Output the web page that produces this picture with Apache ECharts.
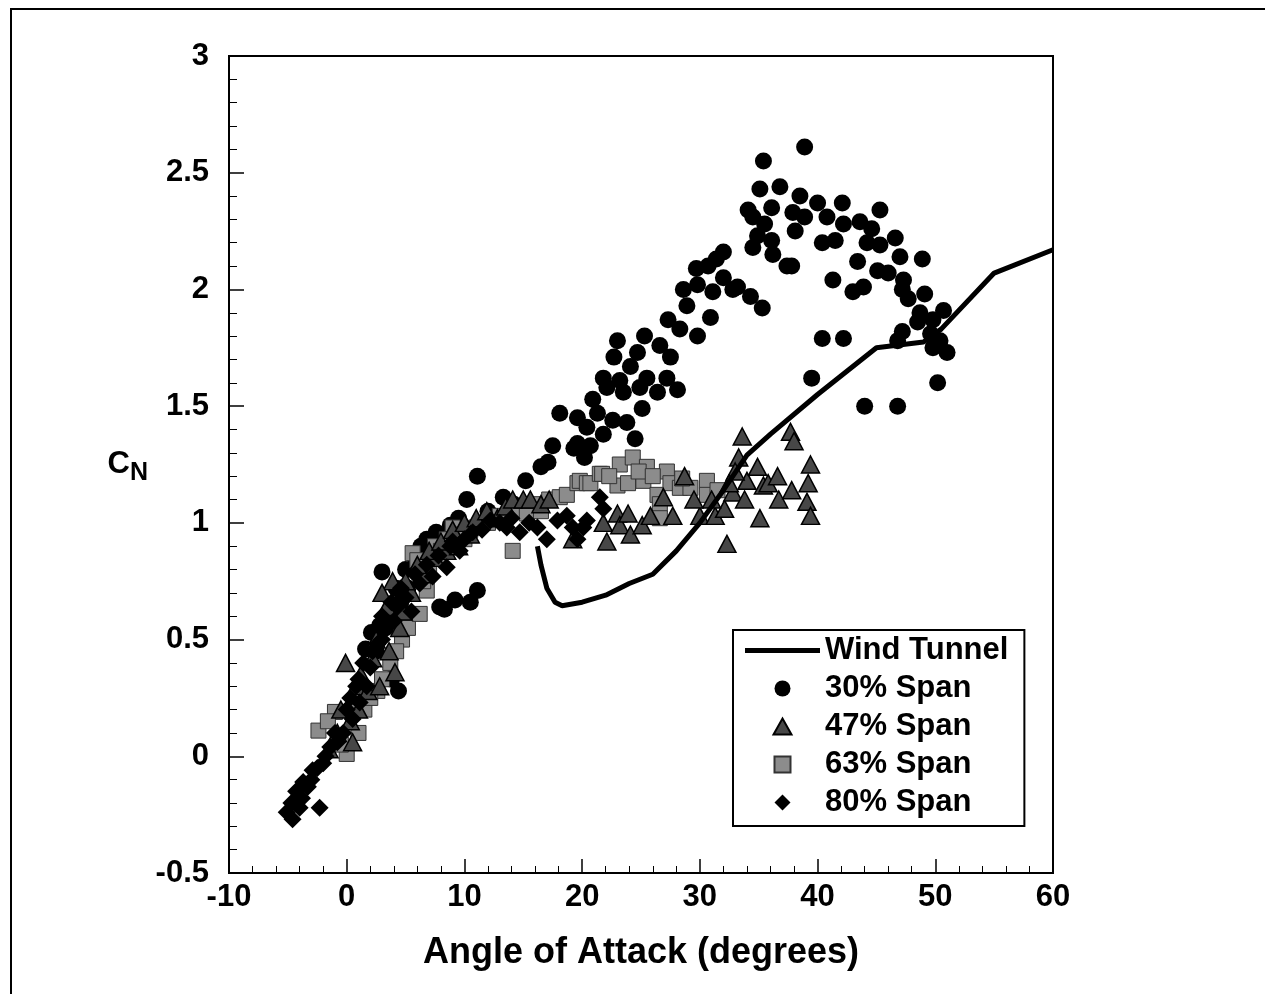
<!DOCTYPE html>
<html>
<head>
<meta charset="utf-8">
<script src="https://cdn.jsdelivr.net/npm/echarts@6/dist/echarts.min.js"></script>
<style>
  html, body { margin: 0; padding: 0; background: #fff; }
  #chart { width: 1265px; height: 994px; }
</style>
</head>
<body>
<div id="chart"></div>
<script>
// angle of attack (deg) vs normal force coefficient
var span30 = [
  [3.0,0.79],[4.4,0.28],[3.8,0.33],[2.1,0.53],[1.6,0.46],[2.8,0.56],[3.6,0.62],[4.6,0.66],[5.2,0.72],
  [4.2,0.72],[5.0,0.8],[5.8,0.85],[6.8,0.93],[12.0,1.05],[14.2,1.08],[1.2,0.3],[0.5,0.2],[2.5,0.45],[3.3,0.55],
  [6.3,0.9],[7.6,0.96],[8.8,0.99],[9.5,1.02],[10.2,1.1],[11.1,1.2],[13.3,1.11],[15.2,1.18],[16.5,1.24],
  [17.1,1.26],[17.5,1.33],[18.1,1.47],[19.3,1.32],
  [7.9,0.64],[8.3,0.63],[9.2,0.67],[10.5,0.66],[11.1,0.71],
  [20.2,1.28],[19.6,1.34],[20.7,1.33],[21.8,1.38],[24.5,1.36],[20.4,1.41],[22.6,1.44],[23.8,1.43],
  [19.6,1.45],[21.3,1.47],[25.1,1.49],[20.9,1.53],[23.5,1.56],[24.9,1.58],[26.4,1.56],[28.1,1.57],
  [22.1,1.58],[21.8,1.62],[23.2,1.61],[25.5,1.62],[27.2,1.62],[24.1,1.67],[22.7,1.71],[24.7,1.73],
  [27.5,1.71],[23.0,1.78],[26.6,1.76],[25.3,1.8],[28.3,1.83],[29.8,1.8],[27.3,1.87],[30.9,1.88],
  [28.9,1.93],[29.8,2.02],[31.1,1.99],[30.7,2.1],[31.4,2.13],[29.7,2.09],[28.6,2.0],[32.8,2.0],[33.2,2.01],
  [38.9,2.61],[35.4,2.55],[35.1,2.43],[36.8,2.44],[34.1,2.34],[34.5,2.31],[36.1,2.35],[35.5,2.28],
  [38.5,2.4],[40.0,2.37],[37.9,2.33],[38.9,2.31],[40.8,2.31],[42.1,2.37],[42.2,2.28],[38.1,2.25],
  [34.9,2.23],[36.1,2.21],[40.4,2.2],[41.5,2.21],[45.3,2.34],[43.6,2.29],[44.6,2.26],[46.6,2.22],
  [44.2,2.2],[45.3,2.19],[34.5,2.18],[36.2,2.15],[37.4,2.1],[37.8,2.1],[32.0,2.16],[32.0,2.05],
  [34.3,1.97],[35.3,1.92],[43.4,2.12],[45.1,2.08],[46.0,2.07],[47.0,2.14],[48.9,2.13],[41.3,2.04],
  [43.0,1.99],[43.9,2.01],[47.3,2.04],[47.2,2.0],[47.7,1.96],[49.1,1.98],[48.7,1.9],[50.7,1.91],
  [49.8,1.87],[48.5,1.86],[49.6,1.81],[50.4,1.78],[49.8,1.75],[51.0,1.73],[47.2,1.82],[46.8,1.78],
  [40.4,1.79],[42.2,1.79],[39.5,1.62],[50.2,1.6],[44.0,1.5],[46.8,1.5]
];
var span47 = [
  [-1.5,0.03],[-0.8,0.1],[-0.1,0.4],[0.5,0.06],[0.8,0.3],[1.2,0.35],[1.8,0.28],[2.2,0.42],[2.8,0.3],
  [3.4,0.64],[3.9,0.75],[4.1,0.36],[3.6,0.45],[4.5,0.55],[5.5,0.7],[6.5,0.78],[7.5,0.85],[8.5,0.88],
  [4.8,0.62],[5.0,0.75],[6.0,0.82],[7.0,0.88],[8.0,0.92],[9.0,0.97],[10.0,1.0],[11.0,1.02],
  [-0.5,0.2],[0.3,0.15],[1.0,0.2],[2.5,0.5],[3.0,0.7],
  [9.5,0.9],[10.5,0.95],[11.9,1.05],[12.8,1.02],[13.5,1.07],[14.1,1.1],[15.0,1.1],[15.6,1.1],
  [16.5,1.08],[17.2,1.1],
  [19.2,0.93],[21.8,1.0],[22.1,0.92],[23.0,1.04],[23.2,0.99],[23.9,1.04],[24.1,0.95],[25.1,0.99],
  [25.8,1.03],[26.9,1.11],[27.7,1.03],[28.7,1.2],[30.0,1.03],[31.3,1.03],[32.1,1.06],[32.3,0.91],
  [32.8,1.13],[33.6,1.37],[33.3,1.28],[34.0,1.18],[34.9,1.24],[35.1,1.02],[35.4,1.16],[35.8,1.17],
  [36.6,1.2],[36.7,1.1],[37.8,1.14],[37.7,1.39],[38.0,1.35],[39.4,1.25],[39.2,1.17],[39.1,1.09],
  [39.4,1.03],[33.0,1.22],[32.5,1.17],[33.8,1.1],[31.0,1.1],[29.5,1.1]
];
var span63 = [
  [-2.4,0.11],[-1.0,0.19],[-1.6,0.15],[0.0,0.01],[1.0,0.1],[0.6,0.22],[1.5,0.2],[2.6,0.28],[3.0,0.33],
  [3.7,0.4],[4.7,0.5],[5.2,0.55],[6.2,0.61],[6.8,0.71],[5.6,0.87],[6.0,0.84],[7.7,0.86],[7.0,0.8],
  [7.5,0.9],[8.0,0.88],[9.0,0.98],[10.0,0.93],[11.0,0.98],[13.0,1.03],[14.5,1.05],[16.0,1.08],
  [17.2,1.1],[6.5,0.75],[4.2,0.45],[2.0,0.25],[-0.5,0.05],
  [8.5,0.93],[9.5,0.95],[10.5,0.97],[12.0,1.0],[14.1,0.88],[15.3,1.04],[16.5,1.05],[18.1,1.11],
  [18.7,1.12],[19.6,1.17],[19.8,1.18],[20.4,1.17],[20.7,1.17],[21.5,1.21],[21.7,1.21],[23.2,1.25],
  [23.0,1.16],[23.9,1.17],[24.3,1.28],[25.2,1.18],[25.5,1.24],[26.4,1.12],[26.6,1.08],[26.6,1.02],
  [27.2,1.22],[27.5,1.17],[28.3,1.15],[29.2,1.15],[30.6,1.18],[30.6,1.12],[31.5,1.14],[22.3,1.2],
  [24.8,1.22],[26.0,1.2],[28.5,1.19]
];
var span80 = [
  [-4.6,-0.27],[-5.1,-0.24],[-4.7,-0.2],[-4.3,-0.15],[-3.7,-0.11],[-2.3,-0.22],[-2.9,-0.06],
  [-3.3,-0.13],[-2.0,-0.03],[-1.4,0.04],[-0.3,0.1],[0.5,0.16],[1.1,0.23],[1.7,0.3],[2.0,0.38],
  [2.6,0.48],[3.4,0.57],[4.3,0.64],[5.0,0.68],[6.2,0.74],[7.3,0.77],[8.5,0.81],[9.6,0.88],[8.8,0.9],
  [0.3,0.25],[1.0,0.33],[2.2,0.45],[3.0,0.6],[3.8,0.66],[4.6,0.72],[5.8,0.78],[6.8,0.82],[7.8,0.86],
  [9.0,0.92],[10.0,0.93],[11.5,0.97],[13.0,1.0],[14.0,1.02],[15.5,1.0],[-3.8,-0.18],[-4.0,-0.22],
  [-3.0,-0.1],[-2.5,-0.05],[-1.8,0.0],[-0.8,0.06],
  [10.7,0.96],[12.2,1.01],[13.6,0.98],[14.7,0.96],[16.2,0.98],[17.0,0.93],[17.9,1.01],[18.7,1.03],
  [19.2,0.98],[19.6,0.93],[20.1,0.98],[20.4,1.01],[21.5,1.11],[21.8,1.06],[1.4,0.4],[0.8,0.3],
  [3.0,0.5],[4.0,0.58],[5.5,0.62],[0.0,0.2],[-1.0,0.1]
];
var wtAlpha = [16.2, 16.5, 17.0, 17.7, 18.3, 20, 22, 24, 26, 28, 30, 32, 34, 36, 40, 45, 49, 50.5, 55, 60];
var wtCN    = [0.9, 0.82, 0.72, 0.66, 0.645, 0.66, 0.69, 0.74, 0.78, 0.88, 1.0, 1.14, 1.29, 1.38, 1.55, 1.75, 1.775, 1.83, 2.07, 2.17];

var legendNames = ['Wind Tunnel', '30% Span', '47% Span', '63% Span', '80% Span'];

var font = '"Liberation Sans", Arial, sans-serif';

var wtData = wtAlpha.map(function (a, i) { return [a, wtCN[i]]; });

var option = {
  backgroundColor: '#fff',
  animation: false,
  textStyle: { fontFamily: font },
  graphic: [{
    type: 'rect',
    shape: { x: 11, y: 9, width: 1300, height: 1100 },
    style: { fill: 'none', stroke: '#000', lineWidth: 2 },
    silent: true
  }],
  grid: {
    left: 229, right: 212, top: 56, bottom: 121,
    show: true, borderColor: '#000', borderWidth: 2
  },
  legend: {
    data: [
      { name: legendNames[0], icon: 'path://M0,0L75,0L75,5L0,5Z' },
      { name: legendNames[1], icon: 'circle' },
      { name: legendNames[2], icon: 'path://M9,0L18,16L0,16Z' },
      { name: legendNames[3], icon: 'path://M0,0L15,0L15,15L0,15Z' },
      { name: legendNames[4], icon: 'path://M8,0L16,8L8,16L0,8Z' }
    ],
    orient: 'vertical',
    left: 733, top: 630,
    itemWidth: 75, itemHeight: 16, itemGap: 7,
    symbolKeepAspect: true,
    padding: [5, 16, 8, 12],
    backgroundColor: '#fff',
    borderColor: '#000', borderWidth: 2,
    selectedMode: false,
    textStyle: { fontFamily: font, fontSize: 31, fontWeight: 'bold', color: '#000' }
  },
  xAxis: {
    type: 'value', min: -10, max: 60, interval: 10,
    name: 'Angle of Attack (degrees)',
    nameLocation: 'middle', nameGap: 62,
    nameTextStyle: { fontFamily: font, fontSize: 36, fontWeight: 'bold', color: '#000' },
    axisLine: { onZero: false, lineStyle: { color: '#000', width: 2 } },
    axisTick: { inside: true, length: 14, lineStyle: { color: '#000', width: 1.5 } },
    minorTick: { show: true, splitNumber: 5, length: 7, lineStyle: { color: '#000', width: 1 } },
    splitLine: { show: false },
    axisLabel: { fontFamily: font, fontSize: 31, fontWeight: 'bold', color: '#000', margin: 9 }
  },
  yAxis: {
    type: 'value', min: -0.5, max: 3, interval: 0.5,
    name: '{c|C}{n|N}',
    nameLocation: 'middle', nameRotate: 0, nameGap: 81,
    nameTextStyle: {
      rich: {
        c: { fontFamily: font, fontSize: 31, fontWeight: 'bold', color: '#000', lineHeight: 42, verticalAlign: 'middle' },
        n: { fontFamily: font, fontSize: 25, fontWeight: 'bold', color: '#000', verticalAlign: 'bottom', lineHeight: 25 }
      }
    },
    axisLine: { onZero: false, lineStyle: { color: '#000', width: 2 } },
    axisTick: { inside: true, length: 15, lineStyle: { color: '#000', width: 1.5 } },
    minorTick: { show: true, splitNumber: 5, length: 8, lineStyle: { color: '#000', width: 1 } },
    splitLine: { show: false },
    axisLabel: { fontFamily: font, fontSize: 31, fontWeight: 'bold', color: '#000', margin: 20 }
  },
  series: [
    {
      name: '30% Span', type: 'scatter', data: span30,
      symbol: 'circle', symbolSize: 17,
      itemStyle: { color: '#000', opacity: 1 }
    },
    {
      name: '63% Span', type: 'scatter', data: span63,
      symbol: 'rect', symbolSize: 15,
      itemStyle: { color: '#8c8c8c', borderColor: '#333', borderWidth: 1, opacity: 1 }
    },
    {
      name: '47% Span', type: 'scatter', data: span47,
      symbol: 'triangle', symbolSize: [18, 17],
      itemStyle: { color: '#474747', borderColor: '#000', borderWidth: 1.5, opacity: 1 }
    },
    {
      name: '80% Span', type: 'scatter', data: span80,
      symbol: 'diamond', symbolSize: [18, 18],
      itemStyle: { color: '#000', opacity: 1 }
    },
    {
      name: 'Wind Tunnel', type: 'line', data: wtData,
      symbol: 'none', smooth: false,
      lineStyle: { color: '#000', width: 5 },
      itemStyle: { color: '#000' }
    }
  ]
};

var chart = echarts.init(document.getElementById('chart'));
chart.setOption(option);
</script>
</body>
</html>
